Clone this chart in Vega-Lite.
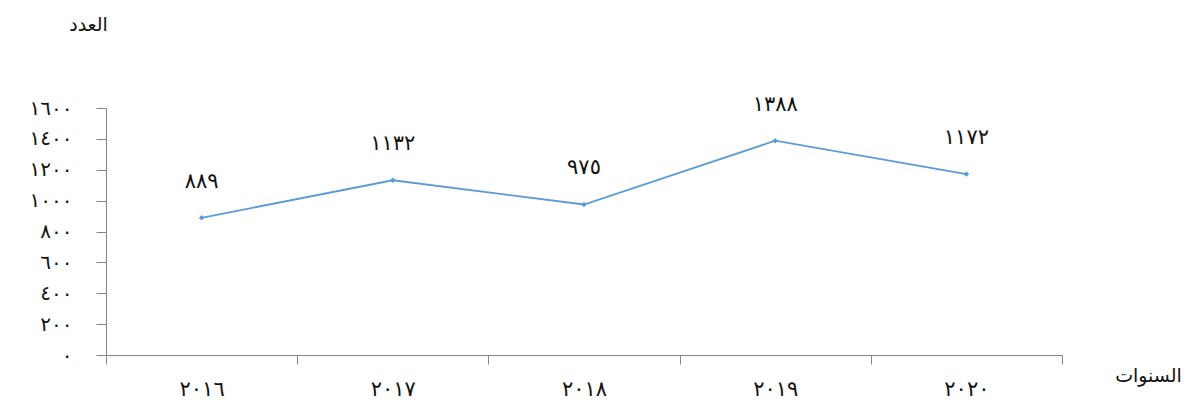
{
  "$schema": "https://vega.github.io/schema/vega-lite/v6.json",
  "width": 956,
  "height": 247,
  "autosize": {"type": "none"},
  "padding": {"left": 106, "top": 108, "right": 131, "bottom": 56},
  "background": "white",
  "config": {
    "view": {"stroke": null},
    "locale": {
      "number": {
        "decimal": ".",
        "thousands": "",
        "grouping": [3],
        "currency": ["", ""],
        "numerals": ["٠", "١", "٢", "٣", "٤", "٥", "٦", "٧", "٨", "٩"]
      }
    },
    "axis": {
      "labelFont": "DejaVu Sans",
      "titleFont": "DejaVu Sans",
      "domainColor": "#868686",
      "tickColor": "#868686",
      "labelColor": "#111111",
      "titleColor": "#111111",
      "grid": false
    }
  },
  "data": {
    "values": [
      {"year": 2016, "value": 889},
      {"year": 2017, "value": 1132},
      {"year": 2018, "value": 975},
      {"year": 2019, "value": 1388},
      {"year": 2020, "value": 1172}
    ]
  },
  "encoding": {
    "x": {
      "field": "year",
      "type": "ordinal",
      "scale": {"paddingInner": 0, "paddingOuter": 0},
      "axis": {
        "title": "السنوات",
        "titleAngle": 0,
        "titleX": 1042,
        "titleY": 20,
        "titleAlign": "center",
        "titleBaseline": "middle",
        "titleFontSize": 19,
        "titleFontWeight": "normal",
        "labelAngle": 0,
        "labelFontSize": 21,
        "labelPadding": 14,
        "labelExpr": "isValid(datum.value) && !isNaN(datum.value) ? format(datum.value, 'd') : ''",
        "tickBand": "extent",
        "tickSize": 9,
        "labelBound": false
      }
    },
    "y": {
      "field": "value",
      "type": "quantitative",
      "scale": {"domain": [0, 1600]},
      "axis": {
        "title": "العدد",
        "titleAngle": 0,
        "titleX": -18,
        "titleY": -84,
        "titleAlign": "center",
        "titleBaseline": "middle",
        "titleFontSize": 19,
        "titleFontWeight": "normal",
        "values": [0, 200, 400, 600, 800, 1000, 1200, 1400, 1600],
        "format": "d",
        "labelFontSize": 20,
        "tickSize": 10,
        "labelPadding": 24
      }
    }
  },
  "layer": [
    {
      "mark": {"type": "line", "color": "#5b9bd5", "strokeWidth": 1.8, "point": {"shape": "diamond", "size": 30, "filled": true, "color": "#5b9bd5"}}
    },
    {
      "mark": {"type": "text", "dy": -36, "font": "DejaVu Sans", "fontSize": 21, "color": "#111111", "baseline": "middle"},
      "encoding": {"text": {"field": "value", "type": "quantitative", "format": "d"}}
    }
  ]
}
